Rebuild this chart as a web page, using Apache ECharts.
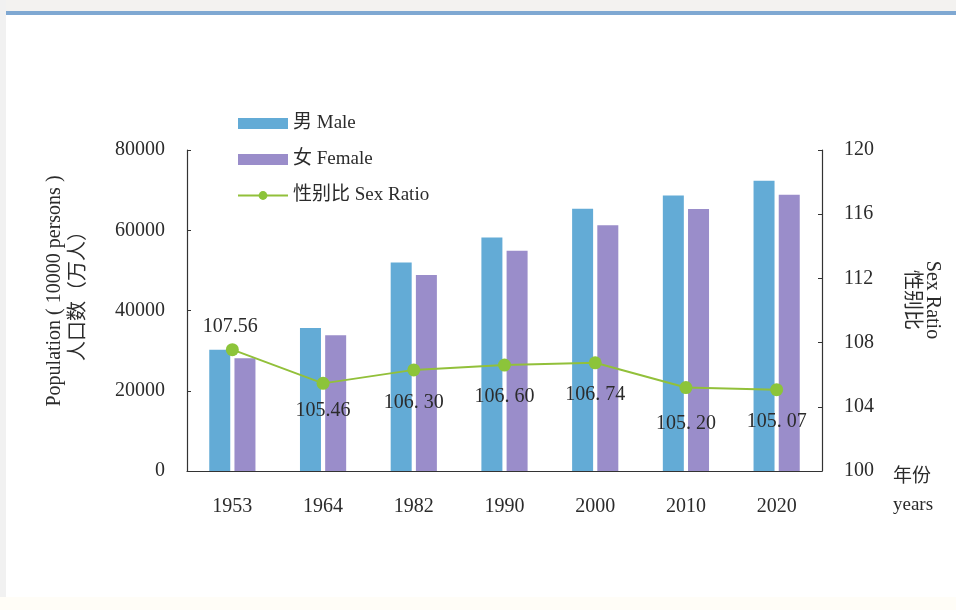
<!DOCTYPE html>
<html>
<head>
<meta charset="utf-8">
<script src="https://cdn.jsdelivr.net/npm/echarts@6/dist/echarts.min.js"></script>
<style>html,body{margin:0;padding:0;background:#fff;}#c{width:956px;height:610px;}</style>
</head>
<body>
<div id="c"></div>
<script>
var years = ['1953', '1964', '1982', '1990', '2000', '2010', '2020'];
var male = [30190, 35652, 51944, 58182, 65355, 68685, 72334];
var female = [28070, 33806, 48874, 54876, 61228, 65287, 68844];
var sexRatio = [107.56, 105.46, 106.30, 106.60, 106.74, 105.20, 105.07];
var ratioLabels = ['107.56', '105.46', '106. 30', '106. 60', '106. 74', '105. 20', '105. 07'];
var leftTicks = [0, 20000, 40000, 60000, 80000];
var rightTicks = [100, 104, 108, 112, 116, 120];

var labelOffsets = [[-2, -1], [0, 6], [0, 11], [0, 10], [0, 10], [0, 15], [0, 11]];
var labelPos = ['top', 'bottom', 'bottom', 'bottom', 'bottom', 'bottom', 'bottom'];

var serif = '"Liberation Serif", "Noto Sans CJK SC", serif';
var txt = '#2b2b2b';

var chart = echarts.init(document.getElementById('c'), null, {renderer: 'canvas'});
var ratioData = sexRatio.map(function (v, i) {
  return {
    value: v,
    label: {
      show: true,
      position: labelPos[i],
      offset: labelOffsets[i],
      formatter: ratioLabels[i]
    }
  };
});

chart.setOption({
  backgroundColor: '#ffffff',
  animation: false,
  grid: {left: 187, right: 134, top: 150, bottom: 139, containLabel: false},
  legend: {
    orient: 'vertical',
    left: 237,
    top: 113,
    padding: 0,
    itemWidth: 50,
    itemHeight: 11,
    itemGap: 15,
    textStyle: {fontFamily: serif, fontSize: 19, color: txt, lineHeight: 21},
    data: [
      {name: '男 Male', icon: 'rect'},
      {name: '女 Female', icon: 'rect'},
      {name: '性别比 Sex Ratio'}
    ]
  },
  xAxis: {
    type: 'category',
    data: years,
    axisLine: {lineStyle: {color: '#333', width: 1.2}},
    axisTick: {inside: true, length: 5, lineStyle: {color: '#333'}},
    axisLabel: {fontFamily: serif, fontSize: 20, color: txt, margin: 26}
  },
  yAxis: [
    {
      type: 'value',
      min: leftTicks[0],
      max: leftTicks[leftTicks.length - 1],
      interval: leftTicks[1] - leftTicks[0],
      splitLine: {show: false},
      axisLine: {show: true, lineStyle: {color: '#333', width: 1.2}},
      axisTick: {show: true, inside: true, length: 4, lineStyle: {color: '#333'}},
      axisLabel: {fontFamily: serif, fontSize: 20, color: txt, margin: 22, formatter: function (v) { return String(v); }}
    },
    {
      type: 'value',
      position: 'right',
      min: rightTicks[0],
      max: rightTicks[rightTicks.length - 1],
      interval: rightTicks[1] - rightTicks[0],
      splitLine: {show: false},
      axisLine: {show: true, lineStyle: {color: '#333', width: 1.2}},
      axisTick: {show: true, inside: true, length: 4, lineStyle: {color: '#333'}},
      axisLabel: {fontFamily: serif, fontSize: 20, color: txt, margin: 22, formatter: function (v) { return String(v); }}
    }
  ],
  series: [
    {
      name: '男 Male',
      type: 'bar',
      data: male,
      barWidth: 21,
      barGap: '20%',
      itemStyle: {color: '#63abd6'}
    },
    {
      name: '女 Female',
      type: 'bar',
      data: female,
      barWidth: 21,
      itemStyle: {color: '#9a8dca'}
    },
    {
      name: '性别比 Sex Ratio',
      type: 'line',
      yAxisIndex: 1,
      data: ratioData,
      symbol: 'circle',
      symbolSize: 13,
      lineStyle: {color: '#92c03a', width: 2},
      itemStyle: {color: '#8cc43a'},
      label: {fontFamily: serif, fontSize: 20, color: txt},
      z: 5
    }
  ],
  graphic: [
    {type: 'rect', shape: {x: 0, y: 0, width: 956, height: 11}, style: {fill: '#f3f2f0'}, silent: true},
    {type: 'rect', shape: {x: 5, y: 11, width: 951, height: 4}, style: {fill: '#7fa8d2'}, silent: true},
    {type: 'rect', shape: {x: 0, y: 0, width: 6, height: 610}, style: {fill: '#f1f1f1'}, silent: true},
    {type: 'rect', shape: {x: 0, y: 597, width: 956, height: 13}, style: {fill: '#fffdf7'}, silent: true},
    {
      type: 'text', x: 67, y: 291, rotation: Math.PI / 2,
      style: {
        text: 'Population ( 10000 persons )\n人口数（万人）',
        font: '20px ' + serif, fill: txt, align: 'center', verticalAlign: 'middle', lineHeight: 24
      }
    },
    {
      type: 'text', x: 922, y: 300, rotation: -Math.PI / 2,
      style: {
        text: 'Sex Ratio\n性别比',
        font: '20px ' + serif, fill: txt, align: 'center', verticalAlign: 'middle', lineHeight: 21
      }
    },
    {
      type: 'text', x: 893, y: 491,
      style: {
        text: '年份\nyears',
        font: '19px ' + serif, fill: txt, align: 'left', verticalAlign: 'middle', lineHeight: 28
      }
    }
  ]
});
</script>
</body>
</html>
